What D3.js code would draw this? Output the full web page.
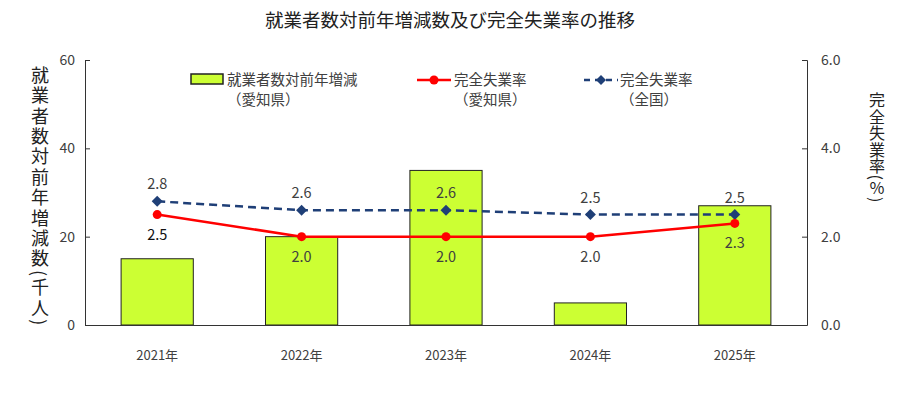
<!DOCTYPE html>
<html><head><meta charset="utf-8">
<script src="https://cdn.jsdelivr.net/npm/d3@7"></script>
<style>body{margin:0;background:#fff;} text{font-family:"Noto Sans CJK JP","Noto Sans",sans-serif;}</style>
</head><body><svg id="c" width="901" height="393"></svg>
<script>
const years = ["2021年","2022年","2023年","2024年","2025年"];
const employedChange = [15, 20, 35, 5, 27];
const unempAichi = [2.5, 2.0, 2.0, 2.0, 2.3];
const unempJapan = [2.8, 2.6, 2.6, 2.5, 2.5];
const leftTicks = [0, 20, 40, 60];
const rightTicks = [0, 2, 4, 6];

const svg = d3.select("#c");
const m = {l:85, r:807, t:60, b:325};
const x = d3.scaleBand().domain(years).range([m.l, m.r]).paddingInner(0.5).paddingOuter(0.25);
const yL = d3.scaleLinear().domain([0,60]).range([m.b, m.t]);
const yR = d3.scaleLinear().domain([0,6]).range([m.b, m.t]);
const cx = d => x(d) + x.bandwidth()/2;
const txt = "#404040";
const numFont = "Liberation Sans, Arial, sans-serif";

svg.append("text").attr("x",450).attr("y",27).attr("text-anchor","middle")
  .attr("font-size",18.5).attr("fill","#222").text("就業者数対前年増減数及び完全失業率の推移");

// bars
svg.selectAll("rect.bar").data(employedChange).join("rect")
  .attr("x",(d,i)=>x(years[i])).attr("width",x.bandwidth())
  .attr("y",d=>yL(d)).attr("height",d=>yL(0)-yL(d))
  .attr("fill","#ccff33").attr("stroke","#222").attr("stroke-width",1);

// axes
const gL = svg.append("g").attr("transform",`translate(${m.l},0)`)
  .call(d3.axisRight(yL).tickValues(leftTicks).tickSize(5).tickFormat(d3.format("d")));
gL.selectAll("text").attr("x",-10).attr("text-anchor","end");
const gR = svg.append("g").attr("transform",`translate(${m.r},0)`)
  .call(d3.axisLeft(yR).tickValues(rightTicks).tickSize(5).tickFormat(d3.format(".1f")));
gR.selectAll("text").attr("x",14).attr("text-anchor","start");
[gL,gR].forEach(g=>{
  g.select(".domain").attr("stroke","#333");
  g.selectAll(".tick line").attr("stroke","#333");
  g.selectAll("text").attr("font-size",14).attr("fill",txt).attr("font-family",numFont);
});
const gX = svg.append("g").attr("transform",`translate(0,${m.b})`)
  .call(d3.axisBottom(x).tickSize(0).tickPadding(26));
gX.select(".domain").attr("stroke","#333").attr("d",`M${m.l},0.5H${m.r}`);
gX.selectAll("text").attr("font-size",13).attr("fill",txt);

// lines
const lineA = d3.line().x((d,i)=>cx(years[i])).y(d=>yR(d));
svg.append("path").attr("d",lineA(unempJapan)).attr("fill","none")
  .attr("stroke","#1f3f77").attr("stroke-width",2.5).attr("stroke-dasharray","8,5");
svg.append("path").attr("d",lineA(unempAichi)).attr("fill","none")
  .attr("stroke","#ff0000").attr("stroke-width",2.5);
svg.selectAll("path.dia").data(unempJapan).join("path")
  .attr("d",d3.symbol(d3.symbolSquare,60)())
  .attr("transform",(d,i)=>`translate(${cx(years[i])},${yR(d)}) rotate(45)`)
  .attr("fill","#1f3f77");
svg.selectAll("circle.pt").data(unempAichi).join("circle")
  .attr("cx",(d,i)=>cx(years[i])).attr("cy",d=>yR(d)).attr("r",4.5).attr("fill","#ff0000");

// labels
svg.selectAll("text.lj").data(unempJapan).join("text")
  .attr("x",(d,i)=>cx(years[i])).attr("y",d=>yR(d)-12).attr("text-anchor","middle")
  .attr("font-size",14.5).attr("fill",txt).attr("font-family",numFont)
  .text(d=>d.toFixed(1));
svg.selectAll("text.la").data(unempAichi).join("text")
  .attr("x",(d,i)=>cx(years[i])).attr("y",d=>yR(d)+25).attr("text-anchor","middle")
  .attr("font-size",14.5).attr("fill",(d,i)=>i===0?"#111":txt).attr("font-family",numFont)
  .text(d=>d.toFixed(1));

// axis titles (vertical)
svg.append("text").attr("x",40).attr("y",66)
  .style("writing-mode","vertical-rl").attr("font-size",18).attr("letter-spacing",2.4)
  .attr("fill","#222").text("就業者数対前年増減数(千人)");
svg.append("text").attr("x",877).attr("y",92)
  .style("writing-mode","vertical-rl").attr("font-size",16).attr("letter-spacing",0.5)
  .attr("fill","#222").text("完全失業率(％)");

// legend
const lg = svg.append("g").attr("font-size",14.5).attr("fill",txt);
lg.append("rect").attr("x",191).attr("y",74).attr("width",32).attr("height",10)
  .attr("fill","#ccff33").attr("stroke","#222").attr("stroke-width",1.5);
lg.append("text").attr("x",227).attr("y",85).attr("fill",txt).text("就業者数対前年増減");
lg.append("text").attr("x",227).attr("y",105).attr("fill",txt).text("（愛知県）");
lg.append("line").attr("x1",417).attr("x2",451).attr("y1",80).attr("y2",80).attr("stroke","#ff0000").attr("stroke-width",2.5);
lg.append("circle").attr("cx",434).attr("cy",80).attr("r",4.5).attr("fill","#ff0000");
lg.append("text").attr("x",454).attr("y",85).attr("fill",txt).text("完全失業率");
lg.append("text").attr("x",454).attr("y",105).attr("fill",txt).text("（愛知県）");
lg.append("line").attr("x1",584).attr("x2",618).attr("y1",80).attr("y2",80).attr("stroke","#1f3f77").attr("stroke-width",2.5).attr("stroke-dasharray","6,5");
lg.append("path").attr("d",d3.symbol(d3.symbolSquare,50)()).attr("transform","translate(601,80) rotate(45)").attr("fill","#1f3f77");
lg.append("text").attr("x",620).attr("y",85).attr("fill",txt).text("完全失業率");
lg.append("text").attr("x",620).attr("y",105).attr("fill",txt).text("（全国）");
</script></body></html>
